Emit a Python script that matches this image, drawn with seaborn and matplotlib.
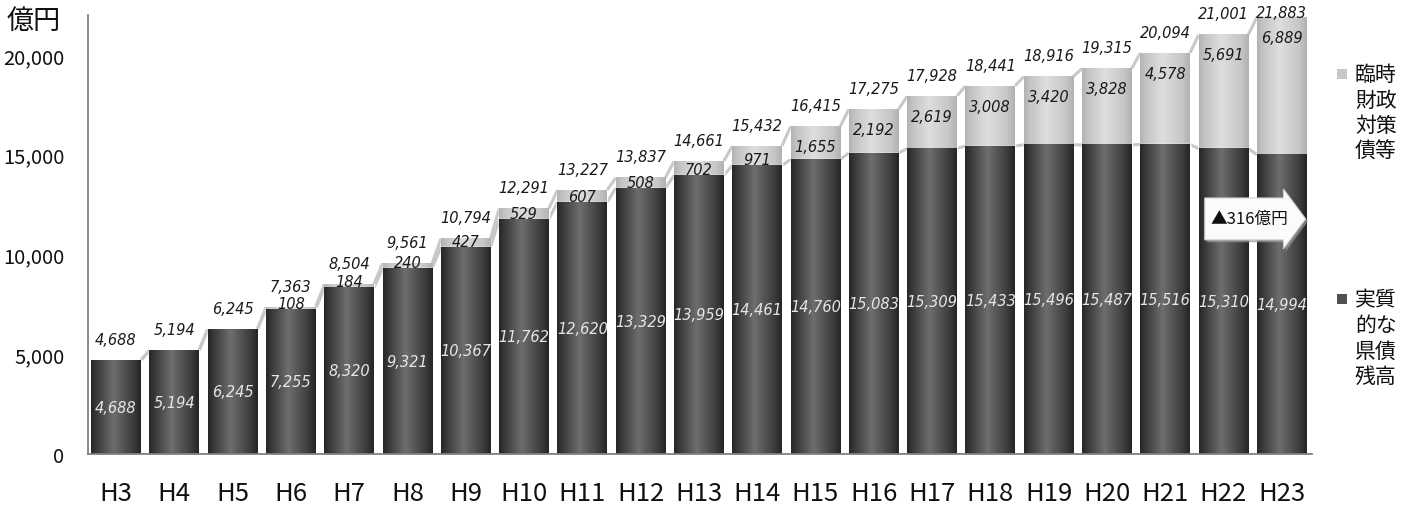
import numpy as np
import pandas as pd
import matplotlib
matplotlib.use("Agg")
import matplotlib.pyplot as plt
import seaborn as sns
from matplotlib.patches import Rectangle, FancyArrow
from matplotlib.colors import LinearSegmentedColormap
from matplotlib.ticker import FuncFormatter

# ---------------- data ----------------
years = ["H3", "H4", "H5", "H6", "H7", "H8", "H9", "H10", "H11", "H12", "H13",
         "H14", "H15", "H16", "H17", "H18", "H19", "H20", "H21", "H22", "H23"]
real_debt = [4688, 5194, 6245, 7255, 8320, 9321, 10367, 11762, 12620, 13329, 13959,
             14461, 14760, 15083, 15309, 15433, 15496, 15487, 15516, 15310, 14994]
temp_debt = [0, 0, 0, 108, 184, 240, 427, 529, 607, 508, 702,
             971, 1655, 2192, 2619, 3008, 3420, 3828, 4578, 5691, 6889]
legend_temp = "臨時財政対策債等"
legend_real = "実質的な県債残高"
unit_label = "億円"
arrow_label = "▲316億円"
y_ticks = [0, 5000, 10000, 15000, 20000]

totals = [r + t for r, t in zip(real_debt, temp_debt)]
df = pd.DataFrame({"year": years, "real": real_debt, "temp": temp_debt, "total": totals})

# ---------------- style ----------------
sns.set_theme(style="white")
plt.rcParams["font.family"] = ["Noto Sans CJK JP", "DejaVu Sans"]

W, H = 1412, 506
fig = plt.figure(figsize=(W / 100, H / 100), dpi=100)
ax = fig.add_axes([88 / W, 51 / H, (1312 - 88) / W, (490 - 51) / H])

bar_w = 0.85
light = "#cccccc"
dark = "#4a4a4a"

sns.barplot(data=df, x="year", y="total", color=light, width=bar_w, ax=ax,
            saturation=1, zorder=2, errorbar=None)
sns.barplot(data=df, x="year", y="real", color=dark, width=bar_w, ax=ax,
            saturation=1, zorder=3, errorbar=None)

ax.set_xlim(-0.48, 20.52)
ax.set_ylim(0, 22000)

# cylindrical gradients
cm_dark = LinearSegmentedColormap.from_list(
    "d", [(0, "#262626"), (0.12, "#3a3a3a"), (0.45, "#6e6e6e"), (0.85, "#3c3c3c"), (1, "#242424")])
cm_light = LinearSegmentedColormap.from_list(
    "l", [(0, "#b2b2b2"), (0.12, "#c4c4c4"), (0.45, "#dedede"), (0.85, "#c6c6c6"), (1, "#b0b0b0")])
grad = np.linspace(0, 1, 256)[np.newaxis, :]
n = len(years)
patches = list(ax.patches)
for k, p in enumerate(patches):
    x0, w, h = p.get_x(), p.get_width(), p.get_height()
    if h <= 0:
        continue
    is_light = k < n
    ax.imshow(grad, extent=(x0, x0 + w, 0, h), cmap=cm_light if is_light else cm_dark,
              aspect="auto", zorder=2.5 if is_light else 3.5, interpolation="bilinear")
ax.set_xlim(-0.48, 20.52)
ax.set_ylim(0, 22000)

# series lines between bars
for i in range(n - 1):
    xa, xb = i + bar_w / 2, i + 1 - bar_w / 2
    ax.plot([xa, xb], [totals[i], totals[i + 1]], color="#c8c8c8", lw=2.2, zorder=1.5,
            solid_capstyle="butt")
    ax.plot([xa, xb], [real_debt[i], real_debt[i + 1]], color="#c8c8c8", lw=2.2, zorder=1.5,
            solid_capstyle="butt")

# value labels
px_per_unit = (455 - 16) / 22000.0
num_font = dict(family="DejaVu Sans", style="italic", fontsize=10.5)
for i in range(n):
    ax.text(i, min(totals[i] + 1050, 22150), f"{totals[i]:,}", ha="center", va="center",
            color="#1a1a1a", zorder=10, clip_on=False, **num_font)
    if temp_debt[i] > 0:
        hpx = temp_debt[i] * px_per_unit
        off = min(20, max(-4, hpx - 6))
        ax.text(i, totals[i] - off / px_per_unit, f"{temp_debt[i]:,}", ha="center", va="center",
                color="#1a1a1a", zorder=10, **num_font)
    ax.text(i, real_debt[i] / 2, f"{real_debt[i]:,}", ha="center", va="center",
            color="#e6e6e6", zorder=10, **num_font)

# arrow annotation
ax_x0, ax_x1 = 18.68, 20.41
ay = 11780
ax.add_patch(FancyArrow(ax_x0 + 0.04, ay - 120, ax_x1 - ax_x0, 0, width=2100, head_width=3000,
                        head_length=0.38, length_includes_head=True, fc="#9a9a9a", ec="none",
                        zorder=6, alpha=0.7))
ax.add_patch(FancyArrow(ax_x0, ay, ax_x1 - ax_x0, 0, width=2100, head_width=3000,
                        head_length=0.38, length_includes_head=True, fc="#fbfbfb", ec="#d0d0d0",
                        lw=0.8, zorder=7))
ax.text(19.45, ay, arrow_label, ha="center", va="center", fontsize=12, color="#111111",
        zorder=8)

# axes styling
sns.despine(ax=ax, top=True, right=True)
for s in ("left", "bottom"):
    ax.spines[s].set_color("#808080")
    ax.spines[s].set_linewidth(1.3)
ax.spines["bottom"].set_zorder(9)
ax.set_yticks(y_ticks)
ax.yaxis.set_major_formatter(FuncFormatter(lambda v, _: f"{v:,.0f}"))
ax.tick_params(axis="y", length=0, pad=17, labelsize=14.5, labelcolor="#111111")
ax.tick_params(axis="x", length=0, pad=19, labelsize=18.5, labelcolor="#111111")
ax.set_xlabel("")
ax.set_ylabel("")
ax.grid(False)

# unit label
fig.text(7 / W, 1 - 21 / H, unit_label, fontsize=19.5, va="center", ha="left", color="#111111")

# custom legends (two characters per line)
def draw_legend(label, y_first, color):
    fig.patches.append(Rectangle((1337 / W, 1 - (y_first + 5) / H), 10 / W, 10 / H,
                                 transform=fig.transFigure, fc=color, ec="none"))
    chunks = [label[j:j + 2] for j in range(0, len(label), 2)]
    for k, c in enumerate(chunks):
        fig.text(1355 / W, 1 - (y_first + k * 25.7) / H, c, fontsize=15, va="center",
                 ha="left", color="#111111")

draw_legend(legend_temp, 75, "#c8c8c8")
draw_legend(legend_real, 300, "#505050")

fig.savefig("out.png", dpi=100)
